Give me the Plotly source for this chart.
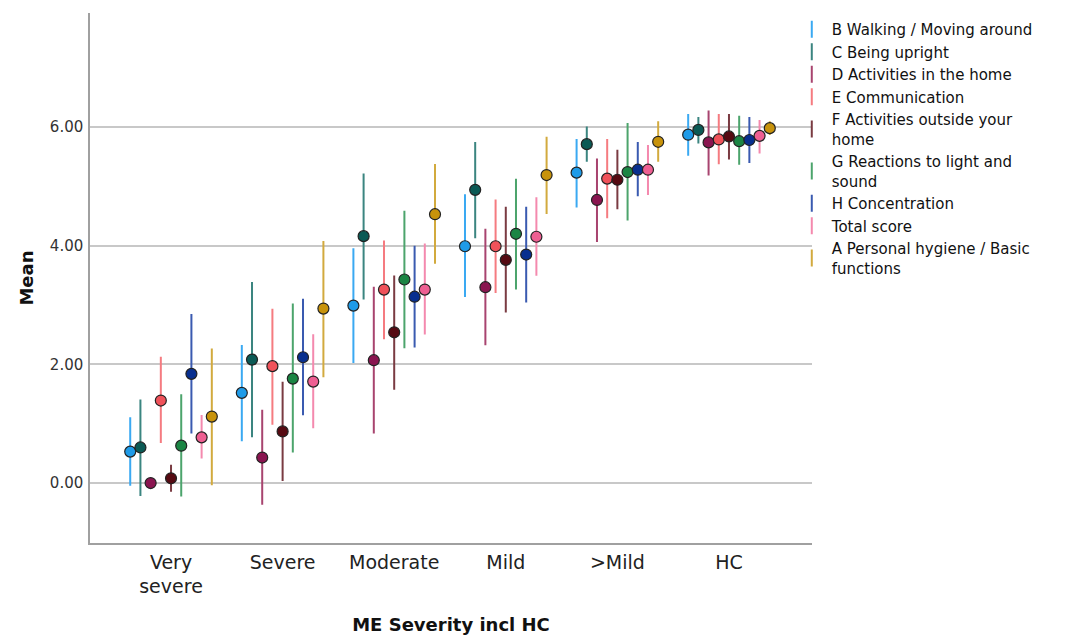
import plotly.graph_objects as go

categories = ["Very<br>severe", "Severe", "Moderate", "Mild", ">Mild", "HC"]

series_names = [
    "B Walking / Moving around",
    "C Being upright",
    "D Activities in the home",
    "E Communication",
    "F Activities outside your<br>home",
    "G Reactions to light and<br>sound",
    "H Concentration",
    "Total score",
    "A Personal hygiene / Basic<br>functions",
]

# Means per severity group (Very severe, Severe, Moderate, Mild, >Mild, HC)
B_mean = [0.53, 1.52, 2.99, 3.99, 5.23, 5.87]
C_mean = [0.60, 2.08, 4.16, 4.94, 5.71, 5.95]
D_mean = [0.00, 0.43, 2.07, 3.30, 4.77, 5.74]
E_mean = [1.39, 1.97, 3.26, 3.99, 5.13, 5.79]
F_mean = [0.08, 0.87, 2.54, 3.76, 5.11, 5.84]
G_mean = [0.63, 1.76, 3.43, 4.20, 5.24, 5.76]
H_mean = [1.84, 2.12, 3.14, 3.85, 5.28, 5.78]
T_mean = [0.77, 1.71, 3.26, 4.15, 5.28, 5.85]
A_mean = [1.12, 2.94, 4.53, 5.19, 5.75, 5.98]

# Upper CI bounds
B_hi = [1.09, 2.31, 3.94, 4.85, 5.78, 6.20]
C_hi = [1.39, 3.37, 5.20, 5.73, 5.99, 6.15]
D_hi = [0.00, 1.22, 3.29, 4.27, 5.45, 6.26]
E_hi = [2.11, 2.92, 4.07, 4.76, 5.78, 6.20]
F_hi = [0.29, 1.69, 3.48, 4.64, 5.60, 6.20]
G_hi = [1.48, 3.01, 4.57, 5.11, 6.05, 6.17]
H_hi = [2.83, 3.09, 3.98, 4.64, 5.73, 6.15]
T_hi = [1.13, 2.49, 4.02, 4.80, 5.68, 6.10]
A_hi = [2.25, 4.06, 5.36, 5.82, 6.08, 6.08]

# Lower CI bounds
B_lo = [-0.03, 0.72, 2.04, 3.15, 4.66, 5.53]
C_lo = [-0.20, 0.79, 3.11, 4.14, 5.43, 5.74]
D_lo = [0.00, -0.35, 0.85, 2.34, 4.08, 5.20]
E_lo = [0.69, 1.00, 2.44, 3.22, 4.48, 5.39]
F_lo = [-0.13, 0.05, 1.59, 2.89, 4.63, 5.47]
G_lo = [-0.21, 0.53, 2.29, 3.28, 4.44, 5.38]
H_lo = [0.85, 1.16, 2.30, 3.06, 4.85, 5.41]
T_lo = [0.43, 0.94, 2.52, 3.51, 4.87, 5.57]
A_lo = [-0.02, 1.80, 3.71, 4.55, 5.43, 5.88]

means = [B_mean, C_mean, D_mean, E_mean, F_mean, G_mean, H_mean, T_mean, A_mean]
his = [B_hi, C_hi, D_hi, E_hi, F_hi, G_hi, H_hi, T_hi, A_hi]
los = [B_lo, C_lo, D_lo, E_lo, F_lo, G_lo, H_lo, T_lo, A_lo]

marker_colors = ["#1f9be8", "#0b5a55", "#8a1550", "#f0525a", "#560a12",
                 "#1b8544", "#082f8f", "#ee5f92", "#c8930b"]
bar_colors = ["#3aa9f2", "#3b8580", "#a8446f", "#f57b80", "#7a3b42",
              "#4ca46c", "#3a5ab0", "#f489ae", "#d2aa3e"]

n_series = len(means)
offset = 0.0914

fig = go.Figure()
for s in range(n_series):
    xs = [g + (s - (n_series - 1) / 2) * offset for g in range(len(categories))]
    m = means[s]
    err_plus = [h - v for h, v in zip(his[s], m)]
    err_minus = [v - l for v, l in zip(m, los[s])]
    fig.add_trace(go.Scatter(
        x=xs, y=m, mode="markers", showlegend=False,
        name=series_names[s],
        marker=dict(size=11, color=marker_colors[s],
                    line=dict(color="#222222", width=1.2)),
        error_y=dict(type="data", symmetric=False, array=err_plus,
                     arrayminus=err_minus, color=bar_colors[s],
                     thickness=2, width=1),
    ))

for s in range(n_series):
    fig.add_trace(go.Scatter(
        x=[None], y=[None], mode="markers", name=series_names[s],
        showlegend=True,
        marker=dict(symbol="line-ns-open", size=12, color=bar_colors[s],
                    line=dict(color=bar_colors[s], width=2)),
    ))

fig.update_layout(
    width=1061, height=627,
    margin=dict(l=82, r=257, t=5, b=92),
    paper_bgcolor="white", plot_bgcolor="white",
    font=dict(family="DejaVu Sans", size=14, color="#222222"),
    legend=dict(x=0.972, xanchor="left", y=1.0, yanchor="top",
                font=dict(size=15, color="#111111"),
                tracegroupgap=0, itemwidth=30,
                bgcolor="rgba(0,0,0,0)"),
    xaxis=dict(
        range=[-0.726, 5.744],
        tickmode="array", tickvals=list(range(len(categories))),
        ticktext=categories,
        tickfont=dict(size=19, color="#222222"),
        showgrid=False, zeroline=False,
        showline=True, linecolor="#a0a0a0", linewidth=1.5,
        ticks="outside", ticklen=1, tickcolor="rgba(0,0,0,0)",
        automargin=False,
        title=dict(text="<b>ME Severity incl HC</b>",
                   font=dict(size=18, color="#111111"), standoff=26),
    ),
    yaxis=dict(
        range=[-1.01, 7.92],
        tickmode="array", tickvals=[0, 2, 4, 6],
        ticktext=["0.00", "2.00", "4.00", "6.00"],
        tickfont=dict(size=15, color="#333333"),
        showgrid=True, gridcolor="#c8c8c8", gridwidth=1.5,
        zeroline=False,
        showline=True, linecolor="#a0a0a0", linewidth=1.5,
        ticks="outside", ticklen=2, tickcolor="rgba(0,0,0,0)",
        automargin=False,
        title=dict(text="<b>Mean</b>", font=dict(size=18, color="#111111"),
                   standoff=12),
    ),
)

fig.write_html("out.html")
